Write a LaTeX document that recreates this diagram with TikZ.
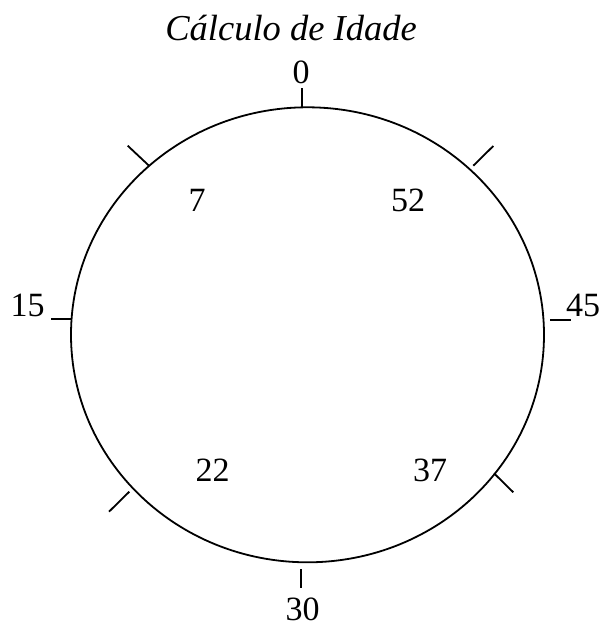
\documentclass[tikz,border=0pt]{standalone}
\usepackage{fontspec}
\setmainfont{Liberation Serif}
\begin{document}
\begin{tikzpicture}[x=1pt,y=-1pt,
  lbl/.style={anchor=base,inner sep=0pt,font=\fontsize{34}{40}\selectfont},
  ttl/.style={anchor=base,inner sep=0pt,font=\fontsize{36.5}{42}\selectfont\itshape},
  tick/.style={line width=1.8pt},
  rim/.style={line width=1.8pt}]
\useasboundingbox (0,0) rectangle (604,637);
\draw[rim] (307.5,334.8) ellipse [x radius=236.5, y radius=227.5];
\node[ttl] (title) at (291,40) {Cálculo de Idade};
% ticks
\coordinate (t0a) at (302,107.5); \coordinate (t0b) at (302,88);
\coordinate (tra) at (473.3,165.7); \coordinate (trb) at (493.3,146);
\coordinate (t45a) at (550,320); \coordinate (t45b) at (571,320);
\coordinate (bra) at (494,473.3); \coordinate (brb) at (513.3,492.3);
\coordinate (t30a) at (301,569); \coordinate (t30b) at (301,588);
\coordinate (bla) at (129.3,491.7); \coordinate (blb) at (109,511.7);
\coordinate (t15a) at (71.5,319); \coordinate (t15b) at (51,319);
\coordinate (tla) at (149.3,166); \coordinate (tlb) at (127.7,145.7);
\foreach \p in {t0,tr,t45,br,t30,bl,t15,tl} \draw[tick] (\p a) -- (\p b);
% labels
\node[lbl] (n0) at (301,83.3) {0};
\node[lbl] (n15) at (27.5,316.7) {15};
\node[lbl] (n45) at (583,316.7) {45};
\node[lbl] (n30) at (302.5,620) {30};
\node[lbl] (n7) at (197,211) {7};
\node[lbl] (n52) at (408,211) {52};
\node[lbl] (n22) at (212.5,481) {22};
\node[lbl] (n37) at (430,481) {37};
\end{tikzpicture}
\end{document}
